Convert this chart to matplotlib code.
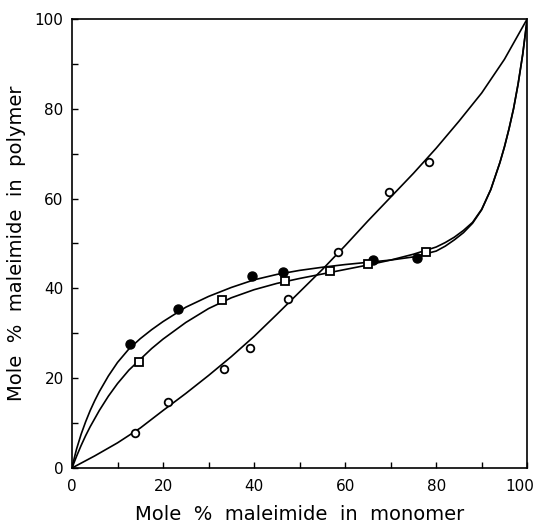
import matplotlib.pyplot as plt
import matplotlib.transforms as mtransforms
import numpy as np

# measured points (mole % maleimide in monomer, in polymer)
filled_x = [12.7, 23.2, 39.5, 46.4, 66.2, 75.9]
filled_y = [27.5, 35.3, 42.8, 43.7, 46.3, 46.8]

square_x = [14.8, 32.9, 46.8, 56.7, 65.1, 77.8]
square_y = [23.5, 37.3, 41.6, 43.9, 45.5, 48.2]

open_x = [13.8, 21.0, 33.3, 39.1, 47.4, 58.5, 69.7, 78.5]
open_y = [7.9, 14.8, 22.0, 26.8, 37.6, 48.2, 61.4, 68.2]

# curves
curve_x = [0, 0.5, 1, 2, 3, 4, 5, 6, 8, 10, 12.5, 15, 17.5, 20, 25, 30, 35,
           40, 45, 50, 55, 60, 65, 70, 75, 80, 82, 84, 86, 88, 90, 92, 94,
           95, 96, 97, 98, 99, 100]
top_y = [0, 2.2, 4.2, 7.5, 10.3, 12.8, 15, 17, 20.5, 23.5, 26.5, 28.8, 30.8,
         32.6, 35.8, 38.2, 40.2, 41.9, 43.1, 44.0, 44.7, 45.3, 45.8, 46.3,
         47.0, 48.3, 49.4, 50.8, 52.4, 54.5, 57.5, 62, 68, 71.5, 75.5, 80,
         85.5, 92, 100]
mid_y = [0, 1.3, 2.6, 5, 7.2, 9.2, 11, 12.8, 16, 18.8, 21.8, 24.2, 26.6,
         28.7, 32.4, 35.5, 37.9, 39.7, 41.1, 42.2, 43.2, 44.2, 45.2, 46.3,
         47.6, 49.2, 50.2, 51.4, 52.9, 54.7, 57.6, 62, 68, 71.5, 75.5, 80,
         85.5, 92, 100]

diag_x = [0, 5, 10, 15, 20, 25, 30, 35, 40, 45, 50, 55, 60, 65, 70, 75, 80,
          85, 90, 95, 100]
diag_y = [0, 2.7, 5.6, 8.9, 12.8, 16.6, 20.6, 24.8, 29.3, 34.2, 39.2, 44.2,
          49.5, 55, 60.3, 65.6, 71.2, 77.2, 83.5, 91, 100]

ticks = np.arange(0, 101, 10)
labels = ['0', '', '20', '', '40', '', '60', '', '80', '', '100']

fig = plt.figure(figsize=(5.4, 5.29), dpi=100)
ax = fig.add_axes([0.1333, 0.1153, 0.843, 0.849])

ax.plot(curve_x, top_y, 'k-', lw=1.2)
ax.plot(curve_x, mid_y, 'k-', lw=1.2)
ax.plot(diag_x, diag_y, 'k-', lw=1.2)

ax.plot(filled_x, filled_y, 'o', ms=6.5, mfc='k', mec='k')
ax.plot(square_x, square_y, 's', ms=6, mfc='white', mec='k', mew=1.3)
ax.plot(open_x, open_y, 'o', ms=5.5, mfc='white', mec='k', mew=1.3)

ax.set_xlim(0, 100)
ax.set_ylim(0, 100)
ax.set_xticks(ticks)
ax.set_yticks(ticks)
ax.set_xticklabels(labels)
ax.set_yticklabels(labels)
ax.tick_params(direction='in', length=4, width=1, labelsize=11)
ax.tick_params(axis='x', pad=8)
ax.tick_params(axis='y', pad=6)
for s in ax.spines.values():
    s.set_linewidth(1.2)

# the last x label sits a little to the left in the original
last = ax.get_xticklabels()[-1]
last.set_transform(last.get_transform() +
                   mtransforms.ScaledTranslation(-0.07, 0, fig.dpi_scale_trans))

ax.set_xlabel('Mole  %  maleimide  in  monomer', fontsize=14, labelpad=8)
ax.set_ylabel('Mole  %  maleimide  in  polymer', fontsize=14, labelpad=6)

plt.savefig('out.png', dpi=100)
